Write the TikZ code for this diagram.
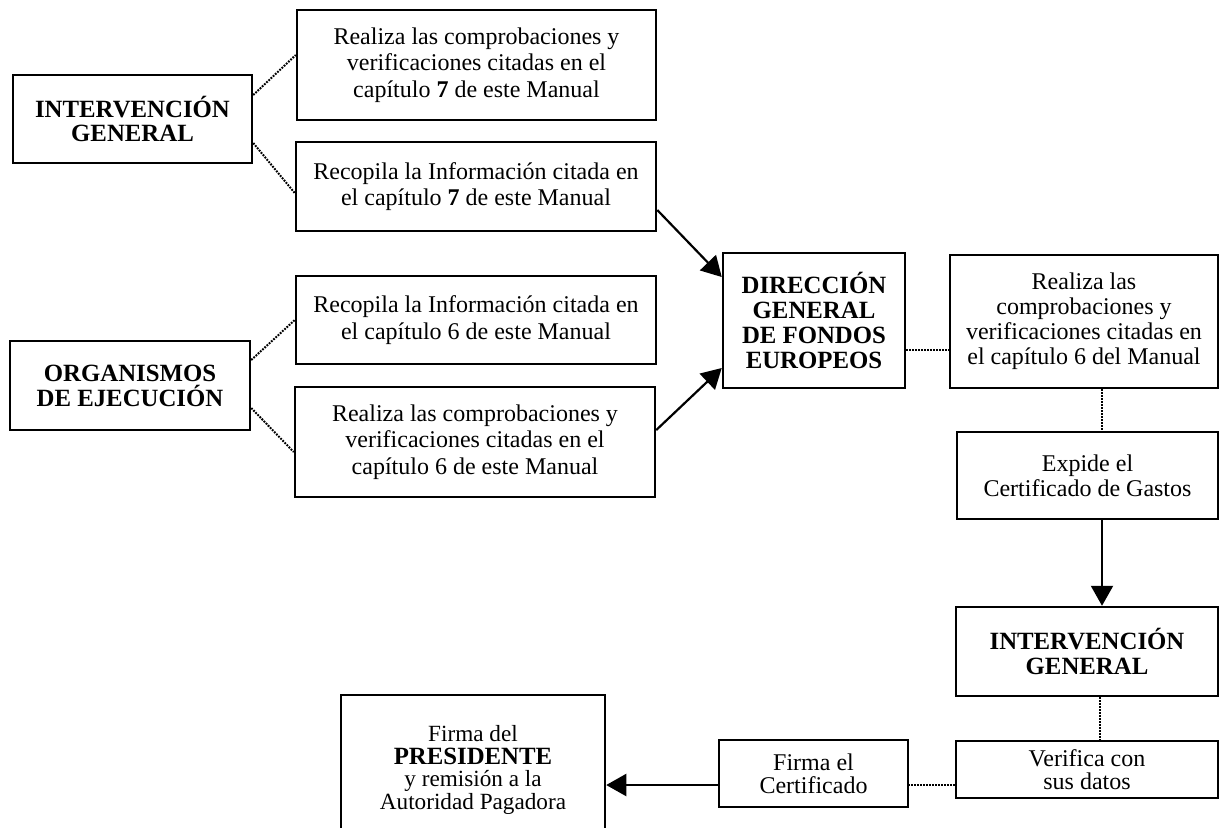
\documentclass[tikz,border=0pt]{standalone}
\usepackage{fontspec}
\setmainfont{Liberation Serif}
\usetikzlibrary{arrows.meta}
\begin{document}
\begin{tikzpicture}[x=0.5pt,y=-0.5pt,
  boxnode/.style={draw, line width=1.25pt, align=center, inner sep=0pt, font=\fontsize{12}{13.3}\selectfont},
  capsfont/.style={font=\fontsize{12.4}{12.4}\selectfont\bfseries},
  dotline/.style={line width=1pt, dash pattern=on 0.9pt off 0.6pt},
  arrowline/.style={line width=1.1pt, -{Triangle[length=10pt,width=11pt]}}]
\useasboundingbox (0,0) rectangle (1220,827);
\fill[white] (0,0) rectangle (1220,827);
\clip (0,0) rectangle (1220,827);
% left column
\node[boxnode, capsfont, minimum width=119.5pt, minimum height=44pt] (ig1) at (132.5,119) {INTERVENCIÓN\\GENERAL};
\node[boxnode, capsfont, minimum width=120pt, minimum height=44.5pt] (oe) at (130,385.5) {ORGANISMOS\\DE EJECUCIÓN};
% middle column
\node[boxnode, minimum width=179.5pt, minimum height=55pt] (a) at (476.5,65) {Realiza las comprobaciones y\\verificaciones citadas en el\\capítulo \textbf{7} de este Manual};
\node[boxnode, minimum width=180pt, minimum height=44.5pt] (b) at (476,186.5) {Recopila la Información citada en\\el capítulo \textbf{7} de este Manual};
\node[boxnode, minimum width=180pt, minimum height=44pt] (c) at (476,320) {Recopila la Información citada en\\el capítulo 6 de este Manual};
\node[boxnode, minimum width=180pt, minimum height=55pt] (d) at (475,442) {Realiza las comprobaciones y\\verificaciones citadas en el\\capítulo 6 de este Manual};
% centre
\node[boxnode, capsfont, minimum width=91pt, minimum height=67.5pt] (dg) at (814,320.5) {DIRECCIÓN\\GENERAL\\DE FONDOS\\EUROPEOS};
% right column
\node[boxnode, font=\fontsize{12}{12.5}\selectfont, minimum width=134pt, minimum height=66.5pt] (e) at (1084,321.5) {Realiza las\\comprobaciones y\\verificaciones citadas en\\el capítulo 6 del Manual};
\node[boxnode, font=\fontsize{12}{12.5}\selectfont, minimum width=130.5pt, minimum height=43.5pt] (ex) at (1087.5,475.5) {Expide el\\Certificado de Gastos};
\node[boxnode, capsfont, minimum width=131pt, minimum height=44.5pt] (ig2) at (1087,651.5) {INTERVENCIÓN\\GENERAL};
\node[boxnode, font=\fontsize{12}{11.7}\selectfont, minimum width=131pt, minimum height=28.5pt] (ver) at (1087,769.5) {Verifica con\\sus datos};
% bottom
\node[boxnode, font=\fontsize{12}{11.7}\selectfont, minimum width=94.5pt, minimum height=33.5pt] (fi) at (813.5,773.5) {Firma el\\Certificado};
\node[boxnode, font=\fontsize{11.6}{11.2}\selectfont, minimum width=132pt, minimum height=75pt] (pr) at (473,770) {Firma del\\{\fontsize{12.4}{11.2}\selectfont\bfseries PRESIDENTE}\\y remisión a la\\Autoridad Pagadora};
% connectors
\draw[dotline] ([yshift=12pt]ig1.east) -- ([yshift=5pt]a.west);
\draw[dotline] ([yshift=-12pt]ig1.east) -- ([yshift=-3.25pt]b.west);
\draw[dotline] ([yshift=12.75pt]oe.east) -- (c.west);
\draw[dotline] ([yshift=-11.25pt]oe.east) -- ([yshift=-5pt]d.west);
\draw[arrowline] ([yshift=-11.75pt]b.east) -- ([yshift=21.75pt]dg.west);
\draw[arrowline] ([yshift=6pt]d.east) -- ([yshift=-23.75pt]dg.west);
\draw[dotline] ([yshift=-14.75pt]dg.east) -- ([yshift=-14.75pt]dg.east -| e.west);
\draw[dotline] ([xshift=9pt]e.south) -- ([xshift=9pt]e.south |- ex.north);
\draw[arrowline] ([xshift=7.25pt]ex.south) -- ([xshift=7.25pt]ex.south |- ig2.north);
\draw[dotline] ([xshift=6.5pt]ig2.south) -- ([xshift=6.5pt]ig2.south |- ver.north);
\draw[dotline] ([yshift=-7.75pt]ver.west) -- ([yshift=-7.75pt]ver.west -| fi.east);
\draw[arrowline] ([yshift=-5.75pt]fi.west) -- ([yshift=-5.75pt]fi.west -| pr.east);
\end{tikzpicture}
\end{document}
